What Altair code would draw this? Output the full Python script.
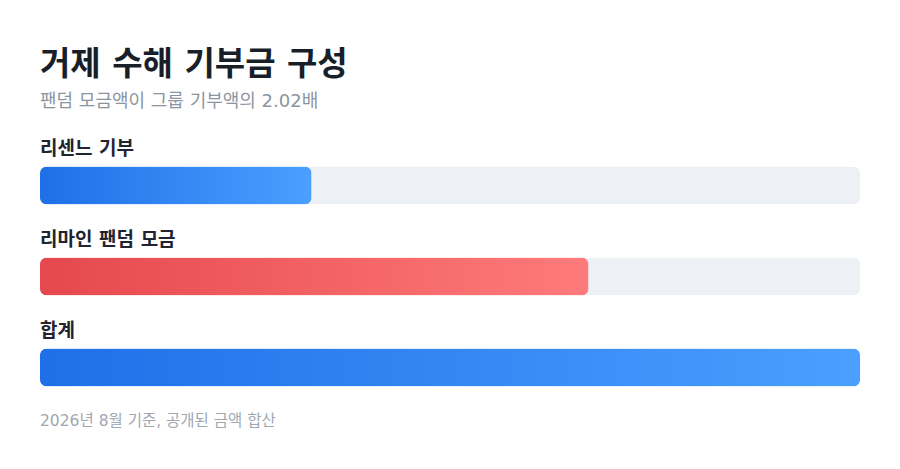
import altair as alt
import pandas as pd

# ---- data ----
categories = ["리센느 기부", "리마인 팬덤 모금", "합계"]
group_donation = 5000      # 만원 (relative scale)
fandom_donation = 10100    # 2.02배
values = [group_donation, fandom_donation, group_donation + fandom_donation]
series_kind = ["blue", "red", "blue"]
title_text = "거제 수해 기부금 구성"
subtitle_text = "팬덤 모금액이 그룹 기부액의 2.02배"
footer_text = "2026년 8월 기준, 공개된 금액 합산"

total = values[2]
df = pd.DataFrame({
    "label": categories,
    "value": values,
    "total": [total] * 3,
    "kind": series_kind,
})

FONT = "DejaVu Sans, Noto Sans CJK KR, sans-serif"

yenc = alt.Y("label:N", sort=categories, axis=None,
             scale=alt.Scale(domain=categories, paddingInner=0, paddingOuter=0))
xscale = alt.Scale(domain=[0, total], nice=False, zero=True)

base = alt.Chart(df)

track = base.mark_bar(cornerRadius=7, size=38, color="#edf0f5").encode(
    y=yenc, x=alt.X("total:Q", scale=xscale, axis=None)
)

blue_grad = alt.Gradient(
    gradient="linear",
    stops=[alt.GradientStop(color="#1f6fe8", offset=0),
           alt.GradientStop(color="#4a9fff", offset=1)],
    x1=0, x2=1, y1=0, y2=0,
)
red_grad = alt.Gradient(
    gradient="linear",
    stops=[alt.GradientStop(color="#e5484d", offset=0),
           alt.GradientStop(color="#ff7b7b", offset=1)],
    x1=0, x2=1, y1=0, y2=0,
)

blue_bars = base.transform_filter(alt.datum.kind == "blue").mark_bar(
    cornerRadius=7, size=38, color=blue_grad
).encode(y=yenc, x=alt.X("value:Q", scale=xscale, axis=None))

red_bars = base.transform_filter(alt.datum.kind == "red").mark_bar(
    cornerRadius=7, size=38, color=red_grad
).encode(y=yenc, x=alt.X("value:Q", scale=xscale, axis=None))

labels = base.mark_text(
    align="left", baseline="middle", dy=-37, fontSize=19, fontWeight="bold",
    font=FONT, color="#1f2430"
).encode(y=yenc, x=alt.value(0), text="label:N")

footer = alt.Chart(pd.DataFrame({"t": [footer_text]})).mark_text(
    align="left", baseline="middle", fontSize=15.5, font=FONT, color="#a0a7b2"
).encode(x=alt.value(0), y=alt.value(281), text="t:N")

chart = alt.layer(track, blue_bars, red_bars, labels, footer).properties(
    width=820,
    height=273,
    autosize=alt.AutoSizeParams(type="none"),
    padding={"left": 32, "top": 132, "right": 32, "bottom": 25},
    background="white",
    title=alt.TitleParams(
        text=title_text,
        subtitle=subtitle_text,
        anchor="start",
        font=FONT,
        fontSize=33,
        fontWeight="bold",
        color="#191f28",
        subtitleFont=FONT,
        subtitleFontSize=18,
        subtitleColor="#8b95a1",
        subtitlePadding=11,
        offset=29,
    ),
).configure_view(stroke=None)

chart.save("out.html", embed_options={"renderer": "svg", "actions": False})
